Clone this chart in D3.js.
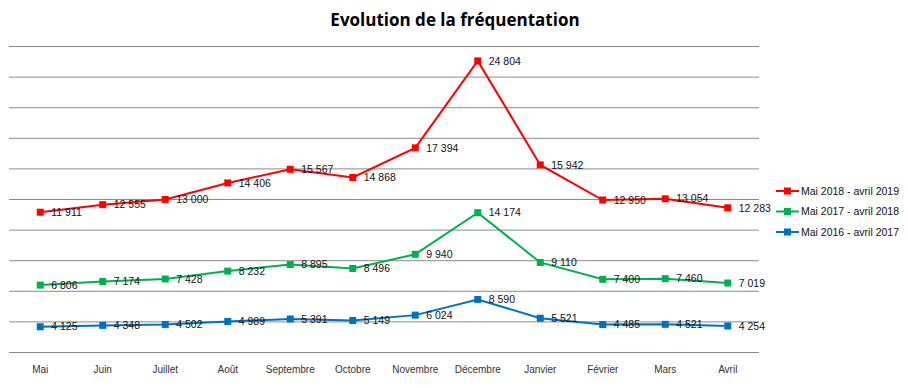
<!DOCTYPE html>
<html lang="fr">
  <head>
    <meta charset="utf-8">
    <title>Evolution de la fréquentation</title>
    <script type="text/javascript" src="https://d3js.org/d3.v7.min.js"></script>
    <style type="text/css">
    body {
      margin: 0;
      background: #fff;
    }
    .title {
      font-family: "Open Sans", sans-serif;
      font-size: 17px;
      font-weight: bold;
      fill: #000;
    }
    .grid line {
      stroke: #8a8a8a;
      stroke-width: 1px;
    }
    .grid path,
    .grid text {
      display: none;
    }
    .axisb path,
    .axisb line {
      display: none;
    }
    .axisb text {
      font-family: "Liberation Sans", sans-serif;
      font-size: 10px;
      fill: #333;
    }
    .vlabel {
      font-family: "Liberation Sans", sans-serif;
      font-size: 10.5px;
      fill: #111;
    }
    .legend text {
      font-family: "Liberation Sans", sans-serif;
      font-size: 10.5px;
      fill: #111;
    }
    </style>
  </head>
  <body>
    <svg width="908" height="388" id="chart"></svg>

    <script type="text/javascript">

    const width = 908;
    const height = 388;

    const months = ["Mai", "Juin", "Juillet", "Août", "Septembre", "Octobre",
      "Novembre", "Décembre", "Janvier", "Février", "Mars", "Avril"];

    // one array per season, bottom of the stack first
    const season2016 = [4125, 4348, 4502, 4989, 5391, 5149, 6024, 8590, 5521, 4485, 4521, 4254];
    const season2017 = [6806, 7174, 7428, 8232, 8895, 8496, 9940, 14174, 9110, 7400, 7460, 7019];
    const season2018 = [11911, 12555, 13000, 14406, 15567, 14868, 17394, 24804, 15942, 12950, 13054, 12283];

    const seriesNames = ["Mai 2016 - avril 2017", "Mai 2017 - avril 2018", "Mai 2018 - avril 2019"];
    const seriesColors = ["#0070c0", "#00b050", "#ff0000"];
    const yTicks = [0, 5000, 10000, 15000, 20000, 25000, 30000, 35000, 40000, 45000, 50000];

    const keys = ["s2016", "s2017", "s2018"];
    const table = months.map((m, i) => ({
      month: m, s2016: season2016[i], s2017: season2017[i], s2018: season2018[i]
    }));

    const stacked = d3.stack().keys(keys)(table);

    const xScale = d3.scaleBand()
        .domain(months)
        .range([9, 759]);

    const yScale = d3.scaleLinear()
        .domain([0, 50000])
        .range([352, 46]);

    const cx = d => xScale(d.data.month) + xScale.bandwidth() / 2;

    const svg = d3.select("#chart");

    svg.append("text")
        .attr("class", "title")
        .attr("x", 455)
        .attr("y", 26)
        .attr("text-anchor", "middle")
        .text("Evolution de la fréquentation");

    // gridlines
    svg.append("g")
        .attr("class", "grid")
        .attr("transform", "translate(9,0)")
        .call(d3.axisLeft(yScale).tickValues(yTicks).tickSize(-750).tickFormat(""));

    // month labels
    svg.append("g")
        .attr("class", "axisb")
        .attr("transform", "translate(0,352)")
        .call(d3.axisBottom(xScale).tickSize(0).tickPadding(14));

    const line = d3.line()
        .x(cx)
        .y(d => yScale(d[1]));

    const layers = svg.selectAll(".layer")
        .data(stacked)
        .enter()
        .append("g")
        .attr("class", "layer");

    layers.append("path")
        .attr("d", line)
        .attr("fill", "none")
        .attr("stroke", (d, i) => seriesColors[i])
        .attr("stroke-width", 2);

    layers.selectAll("rect")
        .data(d => d)
        .enter()
        .append("rect")
        .attr("x", d => cx(d) - 3.5)
        .attr("y", d => yScale(d[1]) - 3.5)
        .attr("width", 7)
        .attr("height", 7)
        .attr("fill", function() { return seriesColors[d3.select(this.parentNode).datum().index]; });

    const fmt = v => d3.format(",")(v).replace(",", " ");

    layers.selectAll(".vlabel")
        .data(d => d.map(p => ({p: p, key: d.key})))
        .enter()
        .append("text")
        .attr("class", "vlabel")
        .attr("x", d => cx(d.p) + 11)
        .attr("y", d => yScale(d.p[1]))
        .attr("dy", "0.35em")
        .text(d => fmt(d.p.data[d.key]));

    // legend, top entry is the latest season
    const legendRows = [2, 1, 0];
    const legend = svg.append("g")
        .attr("class", "legend");

    legendRows.forEach((s, i) => {
      const y = 191 + i * 20.5;
      legend.append("line")
          .attr("x1", 776).attr("x2", 799)
          .attr("y1", y).attr("y2", y)
          .attr("stroke", seriesColors[s])
          .attr("stroke-width", 2);
      legend.append("rect")
          .attr("x", 784).attr("y", y - 3.5)
          .attr("width", 7).attr("height", 7)
          .attr("fill", seriesColors[s]);
      legend.append("text")
          .attr("x", 801)
          .attr("y", y)
          .attr("dy", "0.35em")
          .text(seriesNames[s]);
    });

    </script>
  </body>
</html>
